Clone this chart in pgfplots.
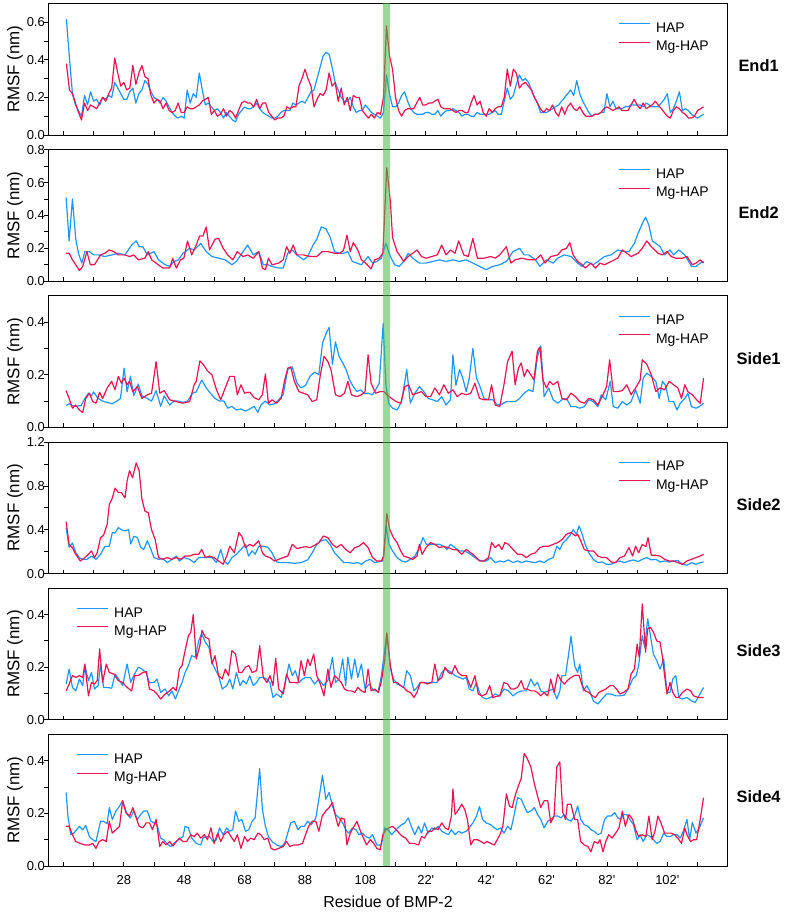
\documentclass[border=0pt]{standalone}
\usepackage{pgfplots}
\pgfplotsset{compat=1.18}
\usepackage{fontspec}
\setmainfont{Liberation Sans}
\definecolor{hap}{RGB}{30,150,255}
\definecolor{mghap}{RGB}{235,20,80}
\definecolor{band}{RGB}{70,185,70}
\pgfplotsset{
  panel/.style={
    scale only axis, width=679.4bp, height=131.5bp, anchor=south west,
    xmin=3, xmax=228, ymin=0,
    xtick={8,18,...,218}, xticklabels={},
    xtick pos=left, ytick pos=left,
    tick align=inside,
    major tick length=4bp, minor tick length=4bp,
    minor y tick num=1,
    y tick style={xshift=-4bp},
    every tick/.append style={black, line width=0.8bp},
    axis line style={line width=0.9bp},
    yticklabel style={/pgf/number format/fixed, /pgf/number format/fixed zerofill, /pgf/number format/precision=1},
    xticklabel style={yshift=-6bp},
    /pgf/number format/assume math mode=true,
    tick label style={font=\fontsize{13}{15}\selectfont},
    ylabel={RMSF (nm)},
    every axis y label/.style={at={(axis description cs:-0.049,0.5)}, anchor=center, rotate=90, font=\fontsize{17}{19}\selectfont},
    clip=false,
    legend style={draw=none, fill=none, inner sep=0pt, row sep=4.3bp, column sep=4bp, nodes={inner sep=1.5bp}, font=\fontsize{14}{16}\selectfont},
    legend cell align=left,
    legend image code/.code={\draw[#1, line width=1bp] (0bp,4.5bp) -- (31bp,4.5bp);},
    every axis plot/.append style={line width=1.2bp, line join=round, mark=none},
  },
  legR/.style={legend style={at={(axis description cs:0.839,0.867)}, anchor=north west}},
  legL/.style={legend style={at={(axis description cs:0.0415,0.867)}, anchor=north west}},
}
\newcommand{\plabel}[1]{\node[font=\bfseries\fontsize{16.5}{19}\selectfont, anchor=center] at (axis description cs:1.0455,0.525) {#1};}
\begin{document}
\begin{tikzpicture}
\path[use as bounding box] (0bp,0bp) rectangle (787bp,912bp);

% ---------------- End1
\begin{axis}[panel, legR, name=a1, at={(48.3bp,777bp)}, ymax=0.7, ytick={0,0.2,0.4,0.6}]
\addplot[hap] coordinates {(9,0.617)(10,0.41)(11,0.22)(12,0.16)(13,0.13)(14,0.10)(15,0.21)(16,0.16)(17,0.23)(18,0.18)(19,0.19)(20,0.16)(21,0.20)(22,0.19)(23,0.21)(24,0.20)(25,0.28)(26,0.25)(27,0.22)(28,0.19)(29,0.19)(30,0.23)(31,0.25)(32,0.17)(33,0.22)(34,0.24)(35,0.29)(36,0.27)(37,0.23)(38,0.20)(39,0.19)(40,0.17)(41,0.20)(42,0.18)(43,0.15)(44,0.12)(45,0.10)(46,0.09)(47,0.10)(48,0.09)(49,0.24)(50,0.17)(51,0.22)(52,0.20)(53,0.33)(54,0.24)(55,0.16)(56,0.17)(57,0.15)(58,0.13)(59,0.14)(60,0.12)(61,0.09)(62,0.12)(63,0.10)(64,0.08)(65,0.07)(66,0.11)(67,0.13)(68,0.15)(69,0.14)(70,0.14)(71,0.15)(72,0.17)(73,0.14)(74,0.12)(75,0.11)(76,0.10)(77,0.09)(78,0.09)(79,0.10)(80,0.12)(81,0.13)(82,0.13)(83,0.13)(84,0.17)(85,0.16)(86,0.17)(87,0.18)(88,0.17)(89,0.20)(90,0.23)(91,0.24)(92,0.30)(93,0.36)(94,0.42)(95,0.44)(96,0.43)(97,0.36)(98,0.28)(99,0.24)(100,0.20)(101,0.18)(102,0.18)(103,0.20)(104,0.15)(105,0.12)(106,0.13)(107,0.13)(108,0.16)(109,0.14)(110,0.12)(111,0.11)(112,0.10)(113,0.09)(114,0.12)(115,0.32)(116,0.22)(117,0.15)(118,0.15)(119,0.17)(120,0.21)(121,0.23)(122,0.18)(123,0.14)(124,0.12)(125,0.11)(126,0.11)(127,0.11)(128,0.12)(129,0.12)(130,0.11)(131,0.11)(132,0.13)(133,0.10)(134,0.12)(135,0.13)(136,0.13)(137,0.14)(138,0.13)(139,0.12)(140,0.10)(141,0.11)(142,0.11)(143,0.10)(144,0.10)(145,0.12)(146,0.11)(147,0.11)(148,0.11)(149,0.11)(150,0.12)(151,0.13)(152,0.11)(153,0.11)(154,0.18)(155,0.25)(156,0.19)(157,0.21)(158,0.27)(159,0.32)(160,0.29)(161,0.30)(162,0.28)(163,0.24)(164,0.20)(165,0.17)(166,0.12)(167,0.12)(168,0.12)(169,0.13)(170,0.14)(171,0.15)(172,0.16)(173,0.18)(174,0.20)(175,0.22)(176,0.24)(177,0.21)(178,0.29)(179,0.22)(180,0.18)(181,0.15)(182,0.12)(183,0.10)(184,0.11)(185,0.11)(186,0.12)(187,0.12)(188,0.22)(189,0.15)(190,0.18)(191,0.14)(192,0.14)(193,0.14)(194,0.15)(195,0.15)(196,0.16)(197,0.16)(198,0.16)(199,0.16)(200,0.15)(201,0.17)(202,0.16)(203,0.15)(204,0.15)(205,0.15)(206,0.17)(207,0.19)(208,0.22)(209,0.12)(210,0.14)(211,0.18)(212,0.23)(213,0.13)(214,0.14)(215,0.13)(216,0.11)(217,0.10)(218,0.09)(219,0.10)(220,0.11)};
\addlegendentry{HAP}
\addplot[mghap] coordinates {(9,0.38)(10,0.24)(11,0.22)(12,0.17)(13,0.12)(14,0.08)(15,0.17)(16,0.13)(17,0.16)(18,0.15)(19,0.14)(20,0.17)(21,0.20)(22,0.18)(23,0.22)(24,0.25)(25,0.41)(26,0.33)(27,0.26)(28,0.28)(29,0.24)(30,0.25)(31,0.37)(32,0.27)(33,0.33)(34,0.37)(35,0.31)(36,0.30)(37,0.21)(38,0.17)(39,0.19)(40,0.18)(41,0.14)(42,0.17)(43,0.13)(44,0.12)(45,0.13)(46,0.17)(47,0.12)(48,0.12)(49,0.15)(50,0.14)(51,0.14)(52,0.15)(53,0.16)(54,0.18)(55,0.19)(56,0.20)(57,0.11)(58,0.13)(59,0.10)(60,0.11)(61,0.14)(62,0.10)(63,0.13)(64,0.12)(65,0.09)(66,0.13)(67,0.17)(68,0.18)(69,0.17)(70,0.17)(71,0.15)(72,0.19)(73,0.14)(74,0.17)(75,0.17)(76,0.12)(77,0.10)(78,0.08)(79,0.09)(80,0.09)(81,0.10)(82,0.15)(83,0.14)(84,0.15)(85,0.15)(86,0.26)(87,0.30)(88,0.35)(89,0.30)(90,0.26)(91,0.15)(92,0.19)(93,0.22)(94,0.21)(95,0.24)(96,0.33)(97,0.26)(98,0.28)(99,0.18)(100,0.25)(101,0.16)(102,0.20)(103,0.13)(104,0.21)(105,0.20)(106,0.20)(107,0.13)(108,0.11)(109,0.09)(110,0.11)(111,0.09)(112,0.12)(113,0.11)(114,0.20)(115,0.58)(116,0.42)(117,0.35)(118,0.20)(119,0.13)(120,0.10)(121,0.13)(122,0.14)(123,0.14)(124,0.14)(125,0.17)(126,0.20)(127,0.16)(128,0.16)(129,0.17)(130,0.17)(131,0.18)(132,0.19)(133,0.15)(134,0.14)(135,0.14)(136,0.14)(137,0.13)(138,0.12)(139,0.13)(140,0.13)(141,0.12)(142,0.12)(143,0.17)(144,0.21)(145,0.16)(146,0.18)(147,0.12)(148,0.10)(149,0.14)(150,0.12)(151,0.14)(152,0.15)(153,0.15)(154,0.20)(155,0.35)(156,0.26)(157,0.35)(158,0.33)(159,0.25)(160,0.27)(161,0.28)(162,0.26)(163,0.24)(164,0.20)(165,0.17)(166,0.14)(167,0.12)(168,0.14)(169,0.13)(170,0.16)(171,0.12)(172,0.10)(173,0.15)(174,0.11)(175,0.15)(176,0.17)(177,0.14)(178,0.13)(179,0.15)(180,0.12)(181,0.10)(182,0.10)(183,0.10)(184,0.11)(185,0.11)(186,0.12)(187,0.14)(188,0.15)(189,0.14)(190,0.13)(191,0.14)(192,0.15)(193,0.13)(194,0.13)(195,0.13)(196,0.16)(197,0.19)(198,0.16)(199,0.14)(200,0.17)(201,0.14)(202,0.15)(203,0.16)(204,0.18)(205,0.16)(206,0.14)(207,0.12)(208,0.10)(209,0.09)(210,0.13)(211,0.15)(212,0.14)(213,0.12)(214,0.11)(215,0.09)(216,0.09)(217,0.10)(218,0.13)(219,0.14)(220,0.15)};
\addlegendentry{Mg-HAP}
\coordinate (bR) at (axis cs:116.1,0.7);
\plabel{End1}
\end{axis}

% ---------------- End2
\begin{axis}[panel, legR, name=a2, at={(48.3bp,630.8bp)}, ymax=0.8, ytick={0,0.2,0.4,0.6,0.8}]
\addplot[hap] coordinates {(8.9,0.51)(9.9,0.245)(11.0,0.50)(12.1,0.255)(13.0,0.17)(14.1,0.11)(15.1,0.18)(16.6,0.18)(18.0,0.16)(19.5,0.16)(21.7,0.15)(24.0,0.16)(26.2,0.17)(28.4,0.16)(30.6,0.22)(32.1,0.245)(33.1,0.21)(34.3,0.21)(35.8,0.16)(38.0,0.18)(39.5,0.13)(41.7,0.10)(43.2,0.09)(44.6,0.12)(46.1,0.13)(47.6,0.17)(49.8,0.20)(51.3,0.19)(53.5,0.23)(55.3,0.18)(57.2,0.15)(59.4,0.14)(61.6,0.13)(63.8,0.10)(65.3,0.12)(67.5,0.18)(69.0,0.22)(70.9,0.16)(72.7,0.18)(74.2,0.10)(75.7,0.10)(77.1,0.09)(79.3,0.08)(80.8,0.08)(82.3,0.17)(83.8,0.19)(85.3,0.16)(87.5,0.13)(88.9,0.15)(90.7,0.22)(91.9,0.255)(93.4,0.33)(94.9,0.32)(96.3,0.27)(97.8,0.18)(99.3,0.17)(100.8,0.17)(102.2,0.18)(103.7,0.12)(105.2,0.11)(106.7,0.10)(108.9,0.15)(110.4,0.11)(111.8,0.12)(113.3,0.14)(114.8,0.23)(116.3,0.15)(117.7,0.10)(119.2,0.09)(120.7,0.12)(122.2,0.17)(123.7,0.14)(125.9,0.11)(128.1,0.11)(130.3,0.12)(132.5,0.13)(134.7,0.12)(137.0,0.13)(139.2,0.12)(141.4,0.13)(143.6,0.11)(145.8,0.09)(148.0,0.07)(150.2,0.09)(152.5,0.10)(154.7,0.12)(156.9,0.18)(159.1,0.20)(160.6,0.16)(162.1,0.16)(164.3,0.13)(165.8,0.09)(168.0,0.13)(170.2,0.11)(171.7,0.14)(173.9,0.16)(176.1,0.15)(178.3,0.11)(179.8,0.09)(181.3,0.12)(183.5,0.10)(185.0,0.12)(187.2,0.15)(189.4,0.16)(191.6,0.19)(193.8,0.18)(195.3,0.18)(197.1,0.23)(198.3,0.29)(199.7,0.35)(200.8,0.39)(201.9,0.34)(203.0,0.245)(204.2,0.23)(205.6,0.21)(207.1,0.16)(208.9,0.19)(210.1,0.16)(211.8,0.19)(213.8,0.16)(216.0,0.09)(217.5,0.09)(218.9,0.11)(220.0,0.12)};
\addlegendentry{HAP}
\addplot[mghap] coordinates {(8.9,0.17)(9.9,0.17)(11.0,0.13)(12.1,0.10)(13.3,0.065)(14.4,0.09)(15.8,0.18)(16.9,0.10)(18.3,0.10)(20.3,0.16)(21.7,0.17)(23.2,0.19)(24.7,0.18)(26.2,0.16)(28.4,0.16)(29.9,0.15)(31.3,0.16)(32.8,0.13)(35.0,0.14)(36.1,0.18)(37.2,0.13)(38.7,0.11)(40.9,0.08)(43.2,0.08)(44.2,0.14)(45.4,0.08)(46.8,0.13)(47.9,0.14)(49.1,0.245)(50.5,0.16)(52.0,0.22)(53.1,0.275)(54.2,0.275)(55.3,0.33)(56.4,0.19)(58.2,0.255)(59.4,0.26)(60.9,0.20)(62.4,0.16)(64.1,0.13)(65.6,0.18)(67.5,0.15)(69.0,0.16)(70.9,0.14)(72.7,0.18)(73.9,0.08)(74.9,0.07)(75.9,0.14)(77.1,0.10)(79.3,0.11)(80.8,0.13)(81.9,0.21)(83.0,0.17)(84.1,0.22)(85.3,0.16)(87.5,0.16)(89.7,0.15)(91.9,0.15)(93.7,0.18)(95.6,0.18)(97.8,0.17)(99.6,0.17)(100.8,0.19)(101.9,0.28)(103.0,0.18)(104.0,0.235)(105.5,0.19)(106.7,0.13)(108.1,0.11)(109.9,0.075)(111.1,0.13)(112.6,0.14)(113.8,0.17)(115.1,0.69)(116.3,0.48)(117.0,0.265)(118.5,0.18)(120.0,0.14)(120.7,0.12)(122.2,0.15)(123.7,0.17)(125.1,0.19)(126.6,0.15)(128.1,0.14)(130.0,0.15)(131.8,0.16)(133.3,0.22)(134.7,0.16)(136.2,0.19)(137.7,0.17)(138.9,0.245)(140.6,0.16)(142.1,0.15)(143.6,0.26)(145.1,0.14)(147.3,0.14)(149.5,0.15)(151.0,0.14)(152.5,0.16)(154.7,0.21)(156.2,0.11)(157.6,0.13)(159.8,0.14)(162.1,0.13)(164.3,0.13)(166.1,0.16)(167.5,0.11)(169.4,0.15)(171.7,0.16)(173.1,0.19)(174.6,0.20)(175.7,0.235)(176.8,0.16)(178.3,0.12)(179.8,0.10)(180.8,0.08)(182.7,0.11)(184.2,0.08)(185.7,0.11)(187.2,0.10)(189.4,0.12)(191.6,0.14)(193.1,0.19)(194.6,0.17)(196.0,0.15)(198.3,0.17)(199.7,0.20)(201.2,0.245)(202.7,0.21)(204.9,0.17)(206.4,0.16)(207.9,0.18)(209.3,0.15)(210.8,0.14)(213.0,0.14)(214.5,0.15)(216.3,0.10)(217.5,0.11)(218.9,0.13)(220.0,0.11)};
\addlegendentry{Mg-HAP}
\plabel{End2}
\end{axis}

% ---------------- Side1
\begin{axis}[panel, legR, name=a3, at={(48.3bp,484.6bp)}, ymax=0.5, ytick={0,0.2,0.4}]
\addplot[hap] coordinates {(8.9,0.083)(9.9,0.09)(11.0,0.083)(12.1,0.08)(13.9,0.083)(15.1,0.11)(16.3,0.13)(17.3,0.12)(18.0,0.135)(19.5,0.11)(21.0,0.10)(22.5,0.095)(24.2,0.09)(25.7,0.10)(26.9,0.11)(28.1,0.225)(29.1,0.135)(30.2,0.195)(31.3,0.12)(32.8,0.165)(34.0,0.12)(35.8,0.11)(37.2,0.10)(38.7,0.14)(40.2,0.08)(41.4,0.12)(43.2,0.085)(44.6,0.10)(46.1,0.10)(47.6,0.095)(49.1,0.10)(50.8,0.13)(52.0,0.135)(53.8,0.18)(55.3,0.15)(56.7,0.13)(58.2,0.11)(59.7,0.10)(61.2,0.10)(62.4,0.073)(63.8,0.08)(65.3,0.066)(66.8,0.07)(68.3,0.062)(69.7,0.07)(71.2,0.08)(72.4,0.057)(73.4,0.085)(74.9,0.10)(76.4,0.085)(77.9,0.09)(79.3,0.105)(80.8,0.125)(82.3,0.22)(83.8,0.23)(85.3,0.17)(86.7,0.15)(88.2,0.16)(89.7,0.195)(91.2,0.21)(92.6,0.20)(93.8,0.32)(95.1,0.36)(96.0,0.38)(97.1,0.24)(98.1,0.325)(99.3,0.27)(100.5,0.245)(101.6,0.22)(102.8,0.18)(104.0,0.155)(105.2,0.136)(106.4,0.143)(107.6,0.13)(108.9,0.13)(110.4,0.124)(111.4,0.143)(112.6,0.168)(113.9,0.395)(114.8,0.16)(115.8,0.09)(117.0,0.073)(118.5,0.066)(120.0,0.098)(121.7,0.22)(122.9,0.092)(124.4,0.13)(125.9,0.155)(127.4,0.136)(128.8,0.11)(130.3,0.105)(131.8,0.098)(133.3,0.117)(134.7,0.085)(136.2,0.105)(137.0,0.276)(138.0,0.16)(139.2,0.22)(140.2,0.19)(141.4,0.136)(142.4,0.187)(143.6,0.30)(144.8,0.187)(145.8,0.16)(147.3,0.11)(148.8,0.105)(150.2,0.105)(151.7,0.085)(153.2,0.088)(154.7,0.098)(156.2,0.098)(157.6,0.098)(159.1,0.11)(160.6,0.13)(162.1,0.143)(163.5,0.136)(165.0,0.27)(166.1,0.31)(167.2,0.117)(168.7,0.15)(170.2,0.105)(171.7,0.092)(173.1,0.105)(174.6,0.11)(176.1,0.079)(177.6,0.079)(179.0,0.073)(180.5,0.079)(182.0,0.105)(183.5,0.098)(185.0,0.079)(186.1,0.124)(187.6,0.105)(189.1,0.175)(190.1,0.079)(191.6,0.073)(193.1,0.098)(194.6,0.085)(196.0,0.098)(197.5,0.143)(199.0,0.092)(200.0,0.187)(201.2,0.206)(202.7,0.194)(204.2,0.175)(205.3,0.11)(206.4,0.175)(207.4,0.16)(208.6,0.098)(210.1,0.098)(211.2,0.066)(212.3,0.092)(213.8,0.11)(214.8,0.13)(216.0,0.079)(217.5,0.073)(218.6,0.079)(220.0,0.092)};
\addlegendentry{HAP}
\addplot[mghap] coordinates {(8.9,0.14)(9.9,0.11)(11.0,0.073)(12.1,0.085)(13.3,0.066)(14.4,0.057)(15.4,0.11)(16.6,0.13)(17.7,0.098)(18.8,0.092)(20.0,0.134)(21.0,0.11)(22.5,0.15)(24.0,0.175)(25.1,0.143)(26.2,0.194)(27.2,0.168)(28.1,0.187)(29.1,0.162)(29.9,0.175)(31.0,0.136)(32.5,0.155)(34.0,0.11)(35.8,0.124)(37.2,0.13)(38.7,0.25)(39.9,0.13)(41.4,0.14)(43.2,0.105)(45.4,0.098)(47.6,0.092)(49.8,0.098)(51.3,0.162)(52.0,0.175)(53.2,0.253)(54.4,0.238)(55.7,0.215)(57.2,0.20)(58.7,0.143)(60.1,0.105)(61.6,0.15)(63.1,0.194)(64.6,0.194)(65.6,0.124)(66.8,0.162)(68.0,0.13)(69.7,0.134)(71.2,0.113)(72.7,0.105)(73.9,0.124)(74.9,0.203)(75.9,0.092)(77.1,0.105)(78.6,0.092)(80.1,0.11)(81.3,0.18)(82.3,0.225)(83.3,0.23)(84.5,0.175)(86.0,0.136)(87.5,0.13)(88.9,0.124)(90.4,0.098)(91.9,0.105)(93.1,0.20)(94.3,0.27)(95.6,0.25)(96.6,0.22)(98.1,0.124)(99.6,0.117)(101.1,0.13)(102.2,0.175)(103.4,0.124)(105.2,0.117)(106.7,0.124)(107.9,0.136)(108.9,0.276)(109.9,0.168)(111.4,0.13)(112.9,0.136)(114.1,0.136)(115.2,0.124)(116.7,0.11)(118.2,0.098)(119.7,0.092)(121.1,0.155)(122.3,0.162)(123.7,0.124)(125.1,0.13)(126.6,0.136)(128.1,0.117)(129.6,0.117)(131.0,0.15)(132.5,0.124)(134.0,0.162)(135.5,0.13)(137.0,0.143)(138.4,0.117)(139.9,0.13)(141.4,0.124)(142.9,0.13)(144.3,0.168)(145.8,0.11)(147.3,0.105)(148.8,0.105)(149.8,0.162)(151.0,0.085)(152.5,0.079)(153.9,0.162)(155.1,0.25)(156.6,0.29)(157.6,0.162)(158.7,0.225)(159.6,0.245)(160.6,0.194)(161.6,0.22)(162.8,0.20)(163.8,0.18)(165.0,0.29)(165.8,0.305)(166.8,0.18)(168.0,0.15)(169.0,0.175)(170.2,0.162)(171.7,0.175)(173.1,0.11)(174.6,0.105)(176.1,0.13)(177.6,0.117)(179.0,0.098)(180.5,0.092)(182.0,0.11)(183.5,0.105)(185.0,0.085)(186.7,0.124)(187.9,0.155)(188.9,0.257)(190.1,0.136)(191.6,0.136)(193.1,0.14)(194.6,0.162)(196.0,0.124)(197.5,0.15)(199.0,0.18)(199.7,0.257)(201.2,0.24)(202.7,0.20)(204.2,0.136)(205.6,0.15)(207.1,0.143)(208.6,0.175)(210.1,0.162)(211.5,0.15)(212.7,0.11)(213.8,0.162)(214.8,0.136)(216.3,0.124)(217.7,0.105)(218.9,0.092)(220.0,0.187)};
\addlegendentry{Mg-HAP}
\plabel{Side1}
\end{axis}

% ---------------- Side2
\begin{axis}[panel, legR, name=a4, at={(48.3bp,338.4bp)}, ymax=1.2, ytick={0,0.4,0.8,1.2}]
\addplot[hap] coordinates {(8.9,0.42)(9.9,0.24)(11.0,0.28)(12.1,0.19)(13.3,0.145)(14.4,0.13)(15.8,0.13)(17.3,0.16)(18.8,0.13)(20.3,0.176)(21.7,0.246)(23.2,0.25)(24.2,0.374)(25.1,0.37)(26.2,0.42)(27.2,0.40)(28.4,0.39)(29.6,0.40)(30.3,0.27)(31.3,0.34)(32.5,0.33)(33.6,0.24)(34.6,0.22)(35.8,0.30)(37.0,0.22)(38.0,0.146)(39.5,0.13)(40.9,0.137)(42.4,0.10)(43.9,0.13)(45.4,0.16)(46.4,0.115)(47.9,0.146)(49.8,0.13)(51.3,0.10)(52.8,0.146)(54.2,0.146)(55.7,0.146)(57.2,0.146)(58.7,0.10)(60.1,0.22)(61.2,0.115)(62.4,0.085)(63.8,0.146)(65.3,0.176)(66.8,0.22)(68.3,0.267)(69.3,0.16)(70.5,0.207)(71.5,0.176)(72.7,0.25)(74.2,0.25)(75.7,0.24)(77.1,0.19)(78.6,0.106)(80.1,0.10)(82.3,0.10)(84.5,0.094)(86.7,0.10)(88.9,0.125)(90.4,0.19)(91.9,0.267)(93.4,0.30)(94.9,0.31)(96.3,0.267)(97.8,0.19)(99.3,0.146)(100.8,0.10)(102.5,0.10)(104.0,0.094)(105.5,0.10)(106.7,0.085)(108.1,0.115)(109.6,0.13)(111.1,0.10)(112.6,0.11)(113.8,0.115)(114.9,0.435)(115.8,0.267)(117.0,0.207)(118.5,0.146)(120.0,0.115)(121.4,0.106)(122.9,0.13)(124.4,0.16)(125.9,0.237)(127.1,0.328)(128.2,0.267)(129.6,0.267)(131.0,0.267)(132.5,0.267)(134.0,0.25)(135.0,0.22)(136.2,0.267)(137.7,0.237)(139.2,0.207)(140.6,0.207)(142.1,0.19)(143.6,0.16)(145.1,0.13)(146.6,0.115)(148.0,0.115)(149.5,0.146)(151.0,0.10)(152.5,0.115)(153.9,0.106)(155.4,0.125)(156.9,0.10)(158.4,0.115)(159.8,0.10)(161.3,0.115)(162.8,0.106)(164.3,0.10)(165.8,0.115)(167.2,0.10)(168.7,0.13)(170.2,0.146)(171.4,0.25)(172.4,0.22)(173.4,0.28)(174.6,0.31)(175.8,0.35)(176.8,0.40)(177.9,0.36)(178.8,0.435)(179.8,0.36)(180.8,0.267)(182.0,0.19)(183.5,0.13)(185.0,0.10)(186.4,0.106)(187.9,0.085)(189.4,0.085)(190.9,0.106)(192.3,0.115)(193.8,0.10)(195.3,0.115)(196.8,0.125)(198.3,0.11)(199.7,0.13)(201.2,0.146)(202.7,0.125)(204.2,0.13)(205.6,0.106)(207.1,0.115)(208.6,0.106)(210.1,0.115)(211.5,0.12)(213.0,0.085)(214.5,0.076)(216.0,0.10)(217.5,0.085)(218.9,0.10)(220.0,0.106)};
\addlegendentry{HAP}
\addplot[mghap] coordinates {(8.9,0.474)(9.9,0.267)(11.0,0.237)(12.1,0.176)(13.6,0.115)(15.1,0.146)(16.3,0.176)(17.3,0.207)(18.3,0.146)(19.2,0.19)(20.3,0.328)(21.3,0.35)(22.5,0.45)(23.2,0.63)(24.2,0.69)(25.1,0.78)(26.2,0.74)(27.2,0.74)(28.4,0.69)(29.1,0.845)(29.9,0.94)(30.9,0.875)(32.1,1.01)(33.1,0.94)(34.0,0.68)(35.0,0.57)(36.1,0.556)(37.2,0.40)(38.4,0.31)(39.5,0.146)(40.9,0.13)(42.4,0.146)(43.9,0.13)(45.4,0.146)(46.8,0.13)(48.3,0.16)(49.8,0.16)(51.3,0.176)(52.8,0.176)(53.8,0.22)(55.0,0.146)(56.4,0.16)(57.9,0.146)(59.4,0.115)(60.9,0.085)(62.1,0.16)(63.1,0.25)(64.6,0.19)(66.1,0.374)(67.1,0.34)(68.3,0.237)(69.7,0.267)(70.9,0.25)(72.7,0.30)(73.9,0.19)(74.9,0.16)(76.4,0.146)(77.9,0.115)(79.3,0.13)(80.8,0.146)(82.3,0.16)(83.8,0.267)(85.3,0.228)(86.7,0.237)(88.2,0.246)(89.7,0.237)(91.2,0.258)(92.6,0.283)(94.1,0.343)(95.6,0.328)(97.1,0.267)(98.5,0.237)(100.0,0.267)(101.5,0.22)(103.0,0.19)(104.5,0.237)(105.9,0.25)(107.4,0.283)(108.9,0.237)(110.4,0.146)(111.8,0.115)(113.3,0.115)(114.1,0.16)(115.1,0.547)(116.1,0.40)(117.3,0.328)(118.5,0.283)(119.7,0.207)(120.7,0.16)(122.2,0.146)(123.7,0.13)(125.1,0.16)(125.9,0.267)(126.8,0.176)(128.1,0.237)(129.6,0.283)(131.0,0.267)(132.5,0.237)(134.0,0.246)(135.5,0.237)(137.0,0.22)(138.4,0.216)(139.9,0.176)(141.4,0.22)(142.9,0.19)(144.3,0.16)(145.8,0.115)(147.3,0.115)(148.8,0.146)(149.8,0.283)(151.0,0.237)(152.2,0.267)(153.2,0.22)(154.2,0.283)(155.4,0.267)(156.9,0.22)(158.4,0.176)(159.8,0.176)(161.3,0.146)(162.8,0.176)(164.3,0.19)(165.8,0.237)(167.2,0.25)(168.7,0.25)(170.2,0.267)(171.7,0.283)(173.1,0.31)(174.6,0.36)(176.1,0.374)(177.6,0.343)(178.3,0.36)(179.3,0.30)(180.5,0.22)(182.0,0.207)(183.5,0.207)(185.0,0.16)(186.4,0.146)(187.9,0.146)(189.4,0.106)(190.9,0.10)(192.3,0.146)(193.8,0.16)(195.3,0.237)(196.5,0.16)(197.5,0.25)(198.5,0.19)(199.7,0.267)(200.9,0.246)(201.6,0.328)(202.7,0.167)(204.2,0.167)(205.6,0.16)(207.1,0.13)(208.6,0.115)(210.1,0.115)(211.5,0.10)(213.0,0.085)(214.5,0.115)(216.0,0.13)(217.5,0.146)(218.9,0.16)(220.0,0.176)};
\addlegendentry{Mg-HAP}
\plabel{Side2}
\end{axis}

% ---------------- Side3
\begin{axis}[panel, legL, name=a5, at={(48.3bp,192.2bp)}, ymax=0.5, ytick={0,0.2,0.4}]
\addplot[hap] coordinates {(8.9,0.136)(9.9,0.193)(11.0,0.123)(12.1,0.11)(13.3,0.155)(14.4,0.13)(15.1,0.206)(16.3,0.149)(17.3,0.18)(18.3,0.117)(19.5,0.13)(20.3,0.212)(21.3,0.123)(22.5,0.123)(24.0,0.12)(25.1,0.174)(26.3,0.155)(27.6,0.13)(29.1,0.212)(30.3,0.142)(31.3,0.168)(32.8,0.20)(34.0,0.193)(35.3,0.18)(36.5,0.142)(38.0,0.142)(39.0,0.155)(40.2,0.104)(41.7,0.117)(42.9,0.091)(43.9,0.11)(45.1,0.079)(46.1,0.11)(47.3,0.142)(48.3,0.18)(49.4,0.206)(50.5,0.244)(51.7,0.238)(52.8,0.30)(53.8,0.327)(55.0,0.295)(56.2,0.276)(57.2,0.219)(58.2,0.193)(59.4,0.168)(60.6,0.117)(62.1,0.13)(63.1,0.155)(64.1,0.117)(65.3,0.18)(66.5,0.13)(67.5,0.149)(68.6,0.136)(69.7,0.168)(70.9,0.13)(72.0,0.142)(73.0,0.161)(74.2,0.161)(75.4,0.155)(76.4,0.142)(77.4,0.085)(78.6,0.098)(80.1,0.085)(81.3,0.13)(82.7,0.212)(83.8,0.168)(84.8,0.187)(86.0,0.142)(87.2,0.155)(88.2,0.161)(89.7,0.161)(91.2,0.136)(92.6,0.155)(94.1,0.13)(95.6,0.149)(97.1,0.238)(98.1,0.142)(99.3,0.155)(100.5,0.231)(101.5,0.13)(102.2,0.238)(103.4,0.155)(104.5,0.231)(105.5,0.161)(106.7,0.212)(107.9,0.117)(109.3,0.136)(110.8,0.11)(112.3,0.11)(113.3,0.168)(115.1,0.327)(116.3,0.193)(117.3,0.155)(118.5,0.136)(119.7,0.13)(120.7,0.123)(121.7,0.187)(122.9,0.168)(124.1,0.11)(125.1,0.123)(126.2,0.142)(127.4,0.142)(128.8,0.14)(130.3,0.142)(131.8,0.142)(133.3,0.18)(134.4,0.193)(135.5,0.187)(136.5,0.18)(137.7,0.168)(139.2,0.161)(140.3,0.155)(141.4,0.161)(142.4,0.117)(143.6,0.11)(144.8,0.142)(145.8,0.104)(146.8,0.085)(148.0,0.079)(149.5,0.085)(151.0,0.098)(152.5,0.091)(153.9,0.117)(155.4,0.11)(156.9,0.091)(158.4,0.104)(159.8,0.11)(161.3,0.11)(162.8,0.155)(164.0,0.13)(165.0,0.142)(166.1,0.11)(167.2,0.104)(168.7,0.11)(170.2,0.117)(171.4,0.079)(172.4,0.11)(173.1,0.168)(174.3,0.168)(175.4,0.257)(176.1,0.318)(177.3,0.206)(178.3,0.18)(179.0,0.212)(180.2,0.11)(181.3,0.13)(182.3,0.11)(183.5,0.072)(185.0,0.06)(186.4,0.079)(187.9,0.098)(189.4,0.098)(190.9,0.091)(192.3,0.091)(193.8,0.094)(195.3,0.123)(196.5,0.155)(197.7,0.168)(198.5,0.206)(199.7,0.32)(200.5,0.276)(201.5,0.384)(202.4,0.32)(203.4,0.25)(204.5,0.225)(205.6,0.193)(206.8,0.231)(207.9,0.104)(208.9,0.104)(209.8,0.155)(210.8,0.168)(211.8,0.085)(213.0,0.079)(214.5,0.085)(216.0,0.072)(217.2,0.066)(218.2,0.085)(220.0,0.123)};
\addlegendentry{HAP}
\addplot[mghap] coordinates {(8.9,0.11)(9.9,0.136)(11.0,0.168)(12.1,0.161)(13.3,0.168)(14.4,0.161)(15.1,0.212)(16.3,0.091)(17.3,0.142)(18.3,0.136)(19.2,0.149)(20.0,0.27)(21.0,0.142)(22.2,0.212)(23.2,0.18)(24.7,0.174)(26.2,0.149)(27.6,0.142)(29.1,0.123)(30.6,0.11)(31.6,0.168)(32.8,0.168)(34.3,0.18)(35.5,0.183)(36.5,0.117)(38.0,0.11)(39.0,0.098)(40.2,0.079)(41.7,0.098)(43.2,0.11)(44.3,0.123)(45.4,0.11)(46.4,0.193)(47.3,0.206)(48.3,0.263)(49.4,0.32)(50.2,0.333)(51.0,0.40)(52.0,0.231)(53.2,0.282)(53.9,0.34)(55.0,0.314)(56.2,0.307)(57.2,0.212)(58.2,0.244)(59.4,0.168)(60.6,0.155)(61.6,0.193)(62.7,0.168)(63.8,0.263)(65.0,0.25)(66.1,0.18)(67.1,0.18)(68.3,0.20)(69.4,0.206)(70.5,0.18)(72.0,0.187)(73.0,0.282)(74.2,0.161)(75.4,0.142)(76.4,0.168)(77.4,0.13)(78.3,0.234)(79.3,0.117)(80.8,0.098)(81.9,0.174)(83.0,0.142)(84.2,0.142)(85.7,0.14)(86.7,0.225)(87.8,0.168)(88.9,0.231)(89.7,0.206)(90.9,0.25)(91.9,0.168)(93.1,0.136)(94.3,0.091)(95.6,0.193)(96.6,0.123)(97.8,0.168)(99.0,0.155)(100.0,0.142)(101.1,0.117)(102.2,0.11)(103.4,0.11)(104.5,0.104)(105.5,0.123)(106.7,0.11)(107.9,0.104)(108.9,0.193)(109.9,0.11)(111.1,0.117)(112.3,0.104)(113.3,0.145)(114.4,0.225)(115.1,0.33)(116.3,0.206)(117.3,0.142)(118.5,0.142)(119.7,0.13)(120.7,0.123)(121.7,0.11)(122.9,0.104)(124.1,0.085)(125.1,0.104)(126.2,0.142)(127.4,0.142)(128.5,0.136)(130.0,0.142)(131.0,0.212)(132.1,0.149)(133.3,0.161)(134.4,0.20)(135.5,0.18)(136.5,0.174)(137.7,0.206)(138.7,0.18)(139.9,0.168)(141.4,0.168)(142.9,0.123)(144.3,0.168)(145.4,0.098)(146.6,0.091)(148.0,0.098)(149.2,0.13)(150.2,0.085)(151.3,0.089)(152.5,0.091)(153.9,0.142)(155.1,0.136)(156.2,0.117)(157.2,0.117)(158.4,0.123)(159.6,0.149)(160.6,0.117)(161.6,0.117)(162.8,0.11)(164.0,0.11)(165.0,0.104)(166.1,0.091)(167.2,0.104)(168.4,0.091)(169.4,0.155)(170.5,0.104)(171.7,0.174)(172.8,0.149)(173.9,0.136)(174.9,0.149)(176.1,0.161)(177.6,0.17)(178.8,0.168)(179.8,0.13)(180.8,0.11)(182.0,0.104)(183.2,0.091)(184.2,0.085)(185.3,0.104)(186.4,0.11)(187.6,0.117)(189.1,0.13)(190.1,0.13)(191.2,0.117)(192.3,0.098)(193.5,0.104)(195.0,0.117)(196.0,0.174)(197.1,0.193)(198.0,0.288)(198.7,0.238)(199.7,0.44)(200.8,0.257)(201.5,0.346)(202.4,0.352)(203.4,0.333)(204.5,0.30)(205.6,0.295)(206.4,0.238)(207.1,0.168)(207.9,0.098)(208.9,0.142)(209.8,0.104)(210.8,0.085)(211.8,0.085)(213.0,0.104)(214.5,0.117)(215.7,0.11)(216.7,0.091)(218.2,0.085)(220.0,0.085)};
\addlegendentry{Mg-HAP}
\plabel{Side3}
\end{axis}

% ---------------- Side4
\begin{axis}[panel, legL, name=a6, at={(48.3bp,46bp)}, ymax=0.5, ytick={0,0.2,0.4},
  xticklabels={{},{},28,{},48,{},68,{},88,{},108,{},22\textquotesingle,{},42\textquotesingle,{},62\textquotesingle,{},82\textquotesingle,{},102\textquotesingle,{}},
  xlabel={Residue of BMP-2},
  every axis x label/.style={at={(axis description cs:0.5,-0.274)}, anchor=center, font=\fontsize{16}{18}\selectfont}]
\addplot[hap] coordinates {(8.9,0.28)(9.5,0.19)(10.4,0.119)(11.4,0.125)(12.4,0.138)(13.3,0.151)(14.4,0.138)(15.4,0.154)(16.6,0.112)(17.7,0.10)(18.8,0.093)(20.3,0.17)(21.3,0.17)(22.5,0.161)(23.2,0.222)(24.2,0.177)(25.4,0.209)(26.6,0.228)(27.6,0.248)(29.1,0.196)(30.2,0.183)(31.3,0.209)(32.5,0.177)(33.6,0.196)(34.7,0.209)(35.8,0.209)(37.0,0.17)(38.0,0.164)(39.0,0.157)(40.2,0.106)(41.2,0.10)(42.4,0.084)(43.5,0.074)(44.6,0.086)(46.1,0.10)(47.6,0.112)(48.3,0.151)(49.4,0.145)(50.5,0.106)(52.0,0.086)(53.5,0.08)(54.2,0.106)(55.3,0.112)(56.4,0.112)(57.6,0.093)(58.7,0.10)(59.7,0.145)(60.9,0.119)(62.1,0.145)(63.1,0.132)(64.1,0.138)(65.0,0.209)(66.1,0.17)(67.1,0.177)(68.3,0.132)(69.4,0.138)(70.5,0.17)(71.5,0.183)(73.0,0.37)(73.9,0.215)(74.9,0.151)(75.9,0.112)(77.1,0.093)(78.6,0.08)(80.1,0.074)(81.3,0.086)(82.3,0.125)(83.3,0.164)(84.5,0.17)(85.7,0.138)(86.7,0.151)(87.8,0.151)(88.9,0.17)(90.1,0.157)(91.6,0.183)(92.6,0.254)(93.8,0.345)(94.9,0.254)(96.0,0.28)(97.1,0.228)(98.1,0.196)(99.3,0.183)(100.5,0.164)(101.5,0.138)(102.5,0.125)(103.7,0.145)(104.9,0.138)(105.9,0.119)(107.0,0.125)(108.1,0.112)(109.3,0.106)(110.4,0.119)(111.8,0.08)(113.3,0.08)(114.4,0.145)(115.5,0.138)(116.7,0.119)(117.7,0.132)(118.8,0.145)(120.0,0.157)(121.1,0.164)(122.2,0.183)(123.2,0.151)(124.4,0.119)(125.6,0.151)(126.6,0.125)(127.6,0.164)(128.8,0.125)(130.0,0.145)(131.0,0.138)(132.1,0.151)(133.3,0.132)(134.4,0.125)(135.5,0.119)(136.5,0.138)(137.7,0.119)(138.9,0.132)(139.9,0.125)(141.4,0.132)(142.4,0.145)(143.6,0.164)(144.8,0.19)(145.8,0.226)(146.8,0.177)(148.0,0.164)(149.5,0.157)(150.7,0.145)(151.7,0.138)(152.8,0.145)(153.9,0.125)(155.1,0.151)(156.2,0.138)(157.2,0.19)(158.4,0.26)(159.6,0.254)(160.6,0.228)(161.6,0.203)(162.8,0.209)(164.0,0.222)(165.0,0.196)(166.1,0.177)(167.2,0.145)(168.4,0.17)(169.4,0.177)(170.5,0.19)(171.7,0.19)(172.8,0.183)(173.9,0.196)(174.9,0.177)(176.1,0.17)(177.3,0.19)(178.3,0.228)(179.3,0.177)(180.5,0.157)(181.7,0.151)(182.7,0.138)(183.8,0.132)(185.0,0.119)(186.1,0.125)(187.2,0.177)(188.2,0.19)(189.4,0.19)(190.6,0.203)(191.6,0.183)(192.6,0.177)(193.5,0.196)(194.6,0.196)(195.6,0.177)(196.8,0.157)(198.0,0.10)(199.0,0.119)(200.0,0.093)(201.2,0.119)(202.4,0.112)(203.4,0.10)(204.5,0.086)(205.6,0.093)(206.8,0.125)(207.9,0.112)(208.9,0.112)(210.1,0.119)(211.2,0.119)(212.3,0.106)(213.3,0.132)(214.5,0.177)(215.4,0.10)(216.3,0.166)(217.5,0.125)(218.6,0.145)(220.0,0.183)};
\addlegendentry{HAP}
\addplot[mghap] coordinates {(8.9,0.151)(9.9,0.151)(11.0,0.119)(12.1,0.093)(13.6,0.086)(15.1,0.08)(16.6,0.08)(17.7,0.086)(18.8,0.067)(19.8,0.093)(21.0,0.10)(22.2,0.093)(23.2,0.17)(24.2,0.125)(25.4,0.138)(26.6,0.151)(27.6,0.248)(28.7,0.203)(29.9,0.19)(31.0,0.222)(32.1,0.183)(33.1,0.151)(34.3,0.145)(35.5,0.164)(36.5,0.164)(37.5,0.138)(38.7,0.177)(39.9,0.074)(40.9,0.093)(42.0,0.08)(43.2,0.093)(44.3,0.076)(45.4,0.093)(46.4,0.106)(47.6,0.093)(48.8,0.093)(50.2,0.119)(51.3,0.112)(52.3,0.125)(53.5,0.106)(54.7,0.119)(55.7,0.10)(56.9,0.145)(57.9,0.086)(59.1,0.125)(60.1,0.093)(61.2,0.119)(62.4,0.132)(63.5,0.112)(64.6,0.093)(65.6,0.119)(66.8,0.067)(68.0,0.112)(69.0,0.093)(70.0,0.106)(71.2,0.10)(72.4,0.125)(73.4,0.119)(74.5,0.10)(75.7,0.106)(76.8,0.067)(77.9,0.061)(79.3,0.067)(80.8,0.074)(81.9,0.093)(83.0,0.074)(84.2,0.08)(85.7,0.08)(87.2,0.086)(88.2,0.119)(89.2,0.151)(90.4,0.17)(91.6,0.17)(92.6,0.132)(93.7,0.19)(94.9,0.209)(96.0,0.222)(97.1,0.241)(98.1,0.19)(99.0,0.151)(100.0,0.183)(101.1,0.177)(101.9,0.08)(103.0,0.125)(104.0,0.145)(105.2,0.17)(106.4,0.132)(107.4,0.106)(108.4,0.08)(109.6,0.10)(110.8,0.086)(111.8,0.067)(112.9,0.061)(113.8,0.119)(114.8,0.138)(115.8,0.145)(117.0,0.151)(118.2,0.138)(119.2,0.125)(120.3,0.112)(121.4,0.106)(122.6,0.086)(124.1,0.086)(125.6,0.08)(126.6,0.112)(127.6,0.106)(128.8,0.132)(130.0,0.132)(131.0,0.145)(132.1,0.138)(133.3,0.164)(134.4,0.145)(135.5,0.138)(136.5,0.19)(137.0,0.293)(137.7,0.196)(138.9,0.215)(139.9,0.235)(140.9,0.215)(141.8,0.177)(142.9,0.08)(143.9,0.10)(145.1,0.10)(146.3,0.093)(147.3,0.086)(148.3,0.093)(149.5,0.086)(150.7,0.08)(151.7,0.10)(152.8,0.125)(153.6,0.157)(154.7,0.274)(155.7,0.228)(156.6,0.222)(157.6,0.267)(158.7,0.306)(159.6,0.332)(160.6,0.428)(161.6,0.409)(162.8,0.377)(164.0,0.312)(165.0,0.267)(166.1,0.222)(167.2,0.248)(168.4,0.248)(169.4,0.164)(170.5,0.19)(171.4,0.377)(172.4,0.396)(173.4,0.203)(174.3,0.177)(174.9,0.235)(176.1,0.235)(177.3,0.177)(178.3,0.177)(179.3,0.093)(180.5,0.08)(181.7,0.074)(182.7,0.054)(183.8,0.093)(185.0,0.086)(185.7,0.10)(186.7,0.054)(187.6,0.093)(188.6,0.119)(189.7,0.106)(190.9,0.125)(192.0,0.145)(193.1,0.209)(194.1,0.151)(195.3,0.196)(196.5,0.177)(197.5,0.138)(198.5,0.112)(199.7,0.119)(200.9,0.112)(201.9,0.19)(203.0,0.10)(203.9,0.132)(204.9,0.19)(205.9,0.164)(207.1,0.125)(208.3,0.125)(209.3,0.125)(210.4,0.119)(211.5,0.106)(212.7,0.086)(213.8,0.145)(214.5,0.119)(215.7,0.093)(216.7,0.10)(217.7,0.10)(218.9,0.177)(220.0,0.26)};
\addlegendentry{Mg-HAP}
\coordinate (bL) at (axis cs:113.8,0);
\plabel{Side4}
\end{axis}

\fill[band, opacity=0.55] (bL) rectangle (bR);
\end{tikzpicture}
\end{document}
